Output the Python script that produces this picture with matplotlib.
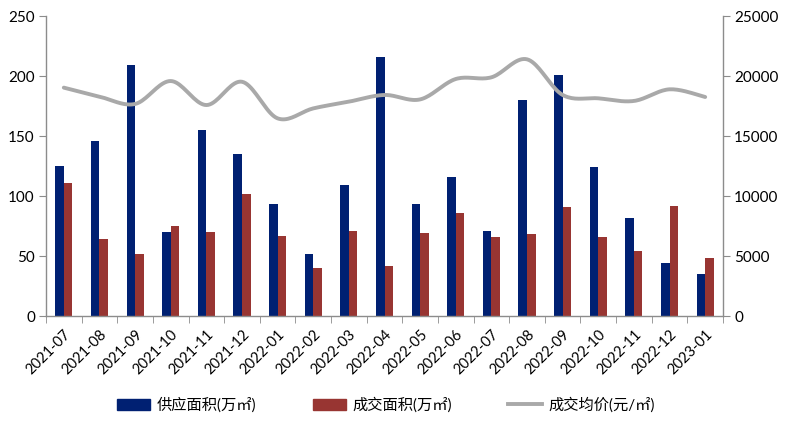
import numpy as np
import matplotlib
matplotlib.use("Agg")
import matplotlib.pyplot as plt
from matplotlib.patches import Patch
from matplotlib.lines import Line2D

plt.rcParams['font.family'] = ['Lato', 'Noto Sans CJK SC', 'DejaVu Sans']

months = ["2021-07", "2021-08", "2021-09", "2021-10", "2021-11", "2021-12",
          "2022-01", "2022-02", "2022-03", "2022-04", "2022-05", "2022-06",
          "2022-07", "2022-08", "2022-09", "2022-10", "2022-11", "2022-12",
          "2023-01"]
supply = [125, 146, 209, 70, 155, 135, 93, 52, 109, 216, 93, 116,
          71, 180, 201, 124, 82, 44, 35]
deal = [111, 64, 52, 75, 70, 102, 67, 40, 71, 42, 69, 86,
        66, 68, 91, 66, 54, 92, 48]
price = [19030, 18280, 17670, 19580, 17580, 19520, 16470, 17300, 17860, 18420,
         18050, 19750, 19890, 21390, 18420, 18140, 17920, 18890, 18250]

BLUE = "#002072"
RED = "#983532"
GREY = "#A9A9A9"
AXC = "#8C8C8C"

fig = plt.figure(figsize=(7.87, 4.26), dpi=100)
ax = fig.add_axes([46/787, 1-316/426, (723-46)/787, 300/426])
ax2 = ax.twinx()

x = np.arange(len(months))
w = 0.24
ax.bar(x - w/2, supply, width=w, color=BLUE, zorder=2)
ax.bar(x + w/2, deal, width=w, color=RED, zorder=2)

# smooth drawing of the line (Catmull-Rom through the data points)
def catmull(xs, ys, n=20):
    P = np.column_stack([xs, ys]).astype(float)
    P = np.vstack([P[0], P, P[-1]])
    out = []
    for i in range(1, len(P) - 2):
        p0, p1, p2, p3 = P[i-1], P[i], P[i+1], P[i+2]
        t = np.linspace(0, 1, n, endpoint=False)[:, None]
        c = 0.5 * ((2*p1) + (-p0 + p2)*t + (2*p0 - 5*p1 + 4*p2 - p3)*t**2
                   + (-p0 + 3*p1 - 3*p2 + p3)*t**3)
        out.append(c)
    out.append(P[-2][None, :])
    out = np.vstack(out)
    return out[:, 0], out[:, 1]

sx, sy = catmull(x, price)
ax2.plot(sx, sy, color=GREY, lw=2.8, solid_capstyle='round', zorder=3)

ax.set_xlim(-0.5, len(months) - 0.5)
ax.set_ylim(0, 250)
ax.set_yticks(np.arange(0, 251, 50))
ax2.set_ylim(0, 25000)
ax2.set_yticks(np.arange(0, 25001, 5000))

ax.set_xticks(x)
ax.set_xticklabels(months, rotation=45, ha='right', rotation_mode='anchor', fontsize=10.5)
ax.set_xticks(np.arange(-0.5, len(months), 1), minor=True)
ax.tick_params(axis='x', which='major', length=0, pad=8)
ax.tick_params(axis='x', which='minor', length=5, color=AXC, direction='out')
ax.tick_params(axis='y', length=5, color=AXC, direction='out', labelsize=11, pad=3)
ax2.tick_params(axis='y', length=5, color=AXC, direction='out', labelsize=11, pad=3)

for a in (ax, ax2):
    a.spines['top'].set_visible(False)
    for s in ('left', 'right', 'bottom'):
        a.spines[s].set_color(AXC)
        a.spines[s].set_linewidth(1.0)
ax.spines['right'].set_visible(False)
ax2.spines['left'].set_visible(False)
ax2.spines['bottom'].set_visible(False)

handles = [Patch(facecolor=BLUE, edgecolor=BLUE),
           Patch(facecolor=RED, edgecolor=RED),
           Line2D([0], [0], color=GREY, lw=2.8)]
labels = ["供应面积(万㎡)", "成交面积(万㎡)", "成交均价(元/㎡)"]
fig.legend(handles, labels, loc='center', bbox_to_anchor=(0.49, 1-405/426),
           ncol=3, frameon=False, fontsize=11, handlelength=2.2,
           handleheight=0.7, columnspacing=3.7, handletextpad=0.4)

fig.savefig("out.png", dpi=100)
